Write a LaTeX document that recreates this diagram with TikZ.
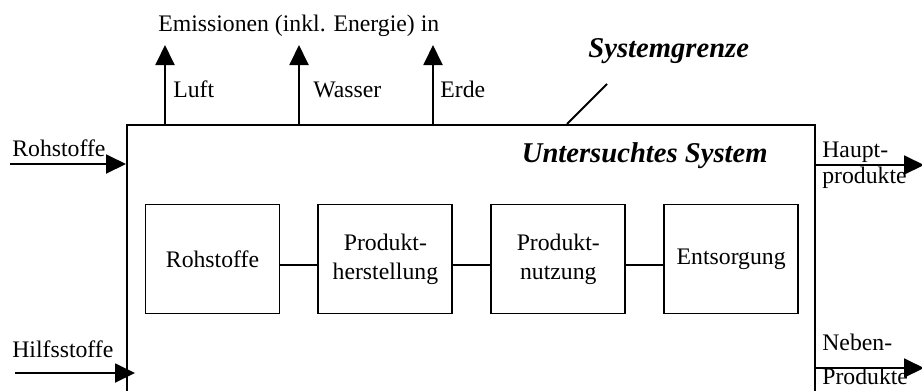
\documentclass[tikz,border=0pt]{standalone}
\usepackage{fontspec}
\setmainfont{Liberation Serif}
\usetikzlibrary{arrows.meta,positioning}

\begin{document}
\begin{tikzpicture}[x=0.02cm,y=-0.02cm,
	txt/.style={font=\fontsize{13.5}{16.5}\selectfont, inner sep=0pt},
	titel/.style={font=\fontsize{16.3}{19}\selectfont\bfseries\itshape, inner sep=0pt},
	kasten/.style={draw, line width=1.1pt, minimum width=2.68cm, minimum height=2.18cm, align=center, txt},
	pfeil/.style={line width=1.1pt, -{Triangle[length=0.4cm,width=0.38cm]}},
	linie/.style={line width=1.1pt}]
		\useasboundingbox (0,0) rectangle (922,390);
		\clip (0,0) rectangle (922,390);
		
		% Systemgrenze
		\node [draw, linie, minimum width=13.76cm, minimum height=6cm, inner sep=0pt, anchor=north west] (sys) at (126,124) {};
		\node [titel, anchor=base east] (untersucht) at (768,162) {Untersuchtes System};
		\node [titel, anchor=base west] (grenze) at (588,57) {Systemgrenze};
		\coordinate (grenzefuss) at (567,124);
		\coordinate (grenzekopf) at (607,84);
		\draw [linie] (grenzefuss) -- (grenzekopf);
		
		% Lebensweg
		\node [kasten] (roh) at (212.5,259) {Rohstoffe};
		\node [kasten, right=0.74cm of roh] (herst) {Produkt-\\herstellung};
		\node [kasten, right=0.74cm of herst] (nutz) {Produkt-\\nutzung};
		\node [kasten, right=0.74cm of nutz] (entsorg) {Entsorgung};
		\draw [linie] ([yshift=-0.12cm]roh.east) -- ([yshift=-0.12cm]herst.west);
		\draw [linie] ([yshift=-0.12cm]herst.east) -- ([yshift=-0.12cm]nutz.west);
		\draw [linie] ([yshift=-0.12cm]nutz.east) -- ([yshift=-0.12cm]entsorg.west);
		
		% Emissionen
		\node [txt, anchor=base west] (emis) at (158,31) {Emissionen (inkl. Energie) in};
		\coordinate (luft) at (165,45);
		\coordinate (wasser) at (299,45);
		\coordinate (erde) at (433,45);
		\draw [pfeil] (luft |- sys.north) -- (luft);
		\draw [pfeil] (wasser |- sys.north) -- (wasser);
		\draw [pfeil] (erde |- sys.north) -- (erde);
		\node [txt, anchor=base west] (luftlab) at (173,97) {Luft};
		\node [txt, anchor=base west] (wasserlab) at (313,97) {Wasser};
		\node [txt, anchor=base west] (erdelab) at (440,97) {Erde};
		
		% Eingaenge
		\coordinate (rohin) at (10,164);
		\draw [pfeil] (rohin) -- (rohin -| sys.west);
		\node [txt, anchor=base west] (rohlab) at (12,156) {Rohstoffe};
		\coordinate (hilfin) at (15,373);
		\coordinate (hilfend) at (135,373);
		\draw [pfeil] (hilfin) -- (hilfend);
		\node [txt, anchor=base west] (hilflab) at (12,357) {Hilfsstoffe};
		
		% Ausgaenge
		\coordinate (hauptaus) at (924,165);
		\draw [pfeil] (hauptaus -| sys.east) -- (hauptaus);
		\node [txt, anchor=base west] (hauptlab) at (822,157) {Haupt-};
		\node [txt, anchor=base west] (hauptlabb) at (822,183) {produkte};
		\coordinate (nebenaus) at (924,368);
		\draw [pfeil] (nebenaus -| sys.east) -- (nebenaus);
		\node [txt, anchor=base west] (nebenlab) at (822,350) {Neben-};
		\node [txt, anchor=base west] (nebenlabb) at (822,384) {Produkte};
\end{tikzpicture}
\end{document}
